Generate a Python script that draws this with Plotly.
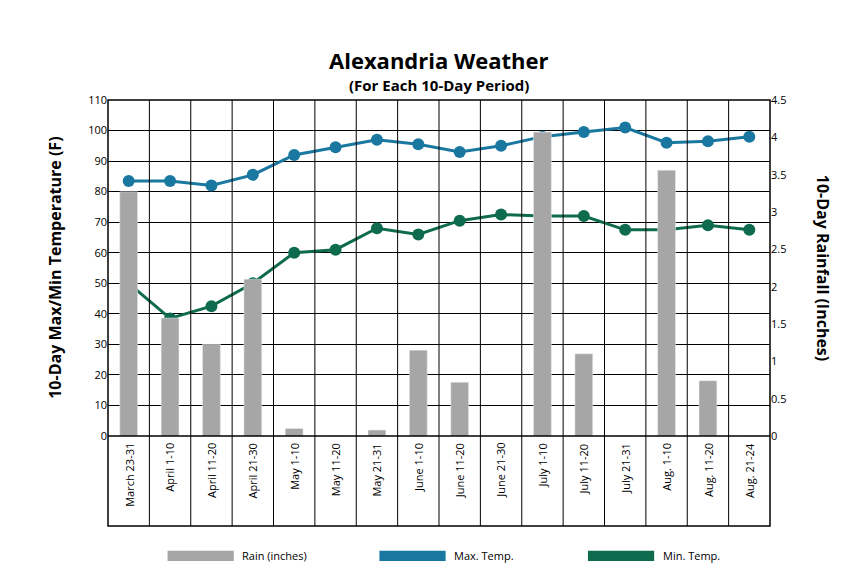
import plotly.graph_objects as go

periods = ["March 23-31", "April 1-10", "April 11-20", "April 21-30", "May 1-10", "May 11-20",
           "May 21-31", "June 1-10", "June 11-20", "June 21-30", "July 1-10", "July 11-20",
           "July 21-31", "Aug. 1-10", "Aug. 11-20", "Aug. 21-24"]
max_temp = [83.5, 83.5, 82, 85.5, 92, 94.5, 97, 95.5, 93, 95, 98, 99.5, 101, 96, 96.5, 98]
min_temp = [50, 38.5, 42.5, 50, 60, 61, 68, 66, 70.5, 72.5, 72, 72, 67.5, 67.5, 69, 67.5]
rain = [3.27, 1.58, 1.23, 2.1, 0.1, 0, 0.08, 1.15, 0.72, 0, 4.07, 1.1, 0, 3.56, 0.74, 0]

RAIN_C = "#a6a6a6"
MAX_C = "#1a78a0"
MIN_C = "#0e6b4e"
FONT = "Open Sans"
ybot = 90 / 426  # domain bottom of the plotting region

x = list(range(len(periods)))
fig = go.Figure()
fig.add_trace(go.Bar(x=x, y=rain, yaxis="y2", marker_color=RAIN_C, width=0.43, name="Rain (inches)"))
fig.add_trace(go.Scatter(x=x, y=max_temp, mode="lines+markers", line=dict(color=MAX_C, width=3),
                         marker=dict(size=12, color=MAX_C), name="Max. Temp."))
fig.add_trace(go.Scatter(x=x, y=min_temp, mode="lines+markers", line=dict(color=MIN_C, width=3),
                         marker=dict(size=12, color=MIN_C), name="Min. Temp."))

shapes = []
# vertical separators through the whole frame
for i in range(len(periods) - 1):
    shapes.append(dict(type="line", xref="x", yref="paper", x0=i + 0.5, x1=i + 0.5, y0=0, y1=1,
                       line=dict(color="black", width=1)))
shapes.append(dict(type="rect", xref="paper", yref="paper", x0=0, x1=1, y0=0, y1=1,
                   line=dict(color="black", width=1.5)))
shapes.append(dict(type="line", xref="paper", yref="paper", x0=0, x1=1, y0=ybot, y1=ybot,
                   line=dict(color="black", width=1.5)))

annotations = []
for i, p in enumerate(periods):
    annotations.append(dict(x=i, y=ybot - 0.012, xref="x", yref="paper", text=p, textangle=-90,
                            showarrow=False, xanchor="center", yanchor="top",
                            font=dict(size=11, color="black", family=FONT)))

# custom legend
legend_items = [("Rain (inches)", RAIN_C, 0.09), ("Max. Temp.", MAX_C, 0.41), ("Min. Temp.", MIN_C, 0.725)]
for name, col, x0 in legend_items:
    shapes.append(dict(type="rect", xref="paper", yref="paper", x0=x0, x1=x0 + 0.1,
                       y0=-0.082, y1=-0.058, fillcolor=col, line=dict(width=0)))
    annotations.append(dict(x=x0 + 0.11, y=-0.07, xref="paper", yref="paper", text=name,
                            showarrow=False, xanchor="left", yanchor="middle",
                            font=dict(size=11, color="black", family=FONT)))

annotations += [
    dict(x=0.5, y=1.134, xref="paper", yref="paper", text="<b>Alexandria Weather</b>",
         showarrow=False, font=dict(size=22, color="black", family=FONT)),
    dict(x=0.5, y=1.063, xref="paper", yref="paper", text="<b>(For Each 10-Day Period)</b>",
         showarrow=False, font=dict(size=15, color="black", family=FONT)),
    dict(x=-0.1, y=(ybot + 1) / 2, xref="paper", yref="paper", text="<b>10-Day Max/Min Temperature (F)</b>",
         textangle=-90, showarrow=False, font=dict(size=16, color="black", family=FONT)),
    dict(x=1.1, y=(ybot + 1) / 2, xref="paper", yref="paper", text="<b>10-Day Rainfall (Inches)</b>",
         textangle=90, showarrow=False, font=dict(size=16, color="black", family=FONT)),
]

fig.update_layout(
    width=867, height=576,
    margin=dict(l=100, r=105, t=92, b=58),
    plot_bgcolor="white", paper_bgcolor="white",
    showlegend=False,
    xaxis=dict(range=[-0.5, 15.5], showticklabels=False, showgrid=False, zeroline=False),
    yaxis=dict(domain=[ybot, 1], range=[0, 110], dtick=10, showgrid=True, gridcolor="black",
               gridwidth=1, zeroline=False, ticks="", tickfont=dict(size=11, color="black", family=FONT)),
    yaxis2=dict(overlaying="y", side="right", range=[0, 4.5], dtick=0.5, showgrid=False,
                zeroline=False, tickfont=dict(size=11, color="black", family=FONT)),
    shapes=shapes, annotations=annotations,
)

fig.write_html("out.html")
